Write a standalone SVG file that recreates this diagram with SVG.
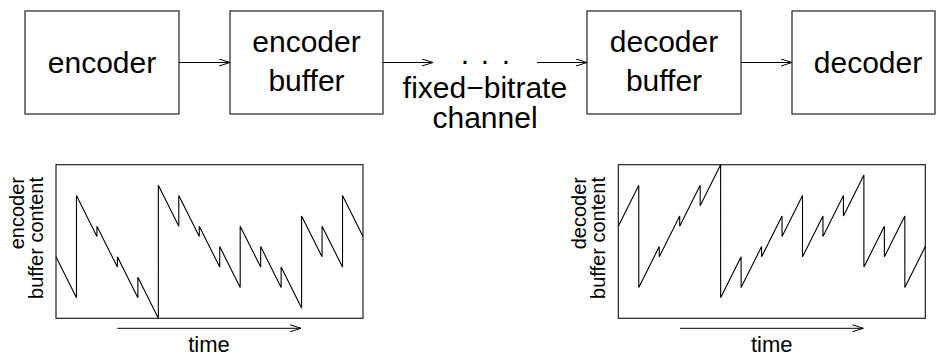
<svg xmlns="http://www.w3.org/2000/svg" width="936" height="356" viewBox="0 0 936 356">
<defs>
<style>
.box{fill:#fff;stroke:#222;stroke-width:1.2}
.lbl{font-family:"Liberation Sans",Arial,sans-serif;font-size:30px;fill:#000;text-anchor:middle}
.axl{font-family:"Liberation Sans",Arial,sans-serif;font-size:20px;fill:#000}
.tl{font-family:"Liberation Sans",Arial,sans-serif;font-size:22px;fill:#000;text-anchor:middle}
.con{fill:none;stroke:#000;stroke-width:1;marker-end:url(#ah)}
.curve{fill:none;stroke:#000;stroke-width:1.1;stroke-linejoin:miter}
.frame{fill:none;stroke:#222;stroke-width:1.2}
</style>
<marker id="ah" markerUnits="userSpaceOnUse" viewBox="0 0 12 8" refX="11" refY="4" markerWidth="12" markerHeight="8" orient="auto">
<path d="M0,0.5 L11,4 L0,7.5" fill="none" stroke="#000" stroke-width="1"/>
</marker>
</defs>
<rect width="936" height="356" fill="#fff"/>
<g id="encoder">
<rect class="box" x="25" y="11" width="154" height="103"/>
<text class="lbl" x="102" y="73">encoder</text>
</g>
<g id="encoder-buffer">
<rect class="box" x="230" y="11" width="153" height="103"/>
<text class="lbl" x="306.5" y="52">encoder</text>
<text class="lbl" x="306.5" y="90.5">buffer</text>
</g>
<g id="channel">
<text class="lbl" x="485" y="98">fixed−bitrate</text>
<text class="lbl" x="485" y="128">channel</text>
<text class="lbl" style="text-anchor:start" x="460.8 480.8 501.8" y="64">...</text>
</g>
<g id="decoder-buffer">
<rect class="box" x="587" y="11" width="154" height="103"/>
<text class="lbl" x="664" y="52">decoder</text>
<text class="lbl" x="664" y="90.5">buffer</text>
</g>
<g id="decoder">
<rect class="box" x="792" y="11" width="143" height="103"/>
<text class="lbl" x="868" y="73">decoder</text>
</g>
<g id="connectors">
<line class="con" x1="179" y1="62.5" x2="230" y2="62.5"/>
<line class="con" x1="383" y1="62.5" x2="433" y2="62.5"/>
<line class="con" x1="537" y1="62.5" x2="587" y2="62.5"/>
<line class="con" x1="741" y1="62.5" x2="792" y2="62.5"/>
</g>
<g id="encoder-chart">
<rect class="frame" x="56" y="164.7" width="307" height="153.6"/>
<path class="curve" d="M56,256.86 L76.47,297.82 L76.47,195.42 L96.93,236.38 L96.93,226.14 L117.4,267.1 L117.4,256.86 L137.87,297.82 L137.87,277.34 L158.33,318.3 L158.33,185.18 L178.8,226.14 L178.8,195.42 L199.27,236.38 L199.27,226.14 L219.73,267.1 L219.73,246.62 L240.2,287.58 L240.2,226.14 L260.67,267.1 L260.67,246.62 L281.13,287.58 L281.13,267.1 L301.6,308.06 L301.6,215.9 L322.07,256.86 L322.07,226.14 L342.53,267.1 L342.53,195.42 L363,236.38"/>
<text class="axl" text-anchor="end" transform="translate(23.5,177) rotate(-90)">encoder</text>
<text class="axl" text-anchor="end" transform="translate(42.7,177) rotate(-90)">buffer content</text>
<line class="con" x1="117.3" y1="328.3" x2="301" y2="328.3"/>
<text class="tl" x="209" y="351.5">time</text>
</g>
<g id="decoder-chart">
<rect class="frame" x="618.3" y="164.7" width="307" height="153.6"/>
<path class="curve" d="M618.3,226.14 L638.77,185.18 L638.77,287.58 L659.23,246.62 L659.23,256.86 L679.7,215.9 L679.7,226.14 L700.17,185.18 L700.17,205.66 L720.63,164.7 L720.63,297.82 L741.1,256.86 L741.1,287.58 L761.57,246.62 L761.57,256.86 L782.03,215.9 L782.03,236.38 L802.5,195.42 L802.5,256.86 L822.97,215.9 L822.97,236.38 L843.43,195.42 L843.43,215.9 L863.9,174.94 L863.9,267.1 L884.37,226.14 L884.37,256.86 L904.83,215.9 L904.83,287.58 L925.3,246.62"/>
<text class="axl" text-anchor="end" transform="translate(585.8,177) rotate(-90)">decoder</text>
<text class="axl" text-anchor="end" transform="translate(605,177) rotate(-90)">buffer content</text>
<line class="con" x1="680" y1="328.3" x2="863.3" y2="328.3"/>
<text class="tl" x="771.7" y="351.5">time</text>
</g>
</svg>
